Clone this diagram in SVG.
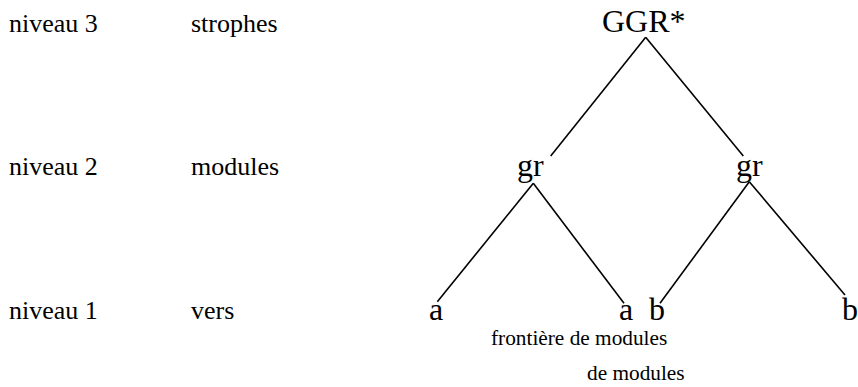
<svg xmlns="http://www.w3.org/2000/svg" width="858" height="387" viewBox="0 0 858 387">
<style>
text{font-family:"Liberation Serif","Times New Roman",serif;fill:#000}
.lbl{font-size:26px}
.node{font-size:32px}
.note{font-size:21.3px}
.edge{stroke:#000;stroke-width:1.6;fill:none}
</style>
<rect width="858" height="387" fill="#fff"/>
<g id="labels">
<text class="lbl" x="9" y="32">niveau 3</text>
<text class="lbl" x="191" y="32">strophes</text>
<text class="lbl" x="9" y="175">niveau 2</text>
<text class="lbl" x="191" y="175">modules</text>
<text class="lbl" x="9" y="319">niveau 1</text>
<text class="lbl" x="191" y="319">vers</text>
</g>
<g id="connectors">
<line class="edge" x1="645.7" y1="37.3" x2="550.7" y2="156"/>
<line class="edge" x1="645.7" y1="37.3" x2="743.3" y2="156"/>
<line class="edge" x1="533.3" y1="183.3" x2="437.3" y2="301.7"/>
<line class="edge" x1="533.3" y1="183.3" x2="624" y2="303.3"/>
<line class="edge" x1="749.3" y1="181.7" x2="660" y2="303.3"/>
<line class="edge" x1="749.3" y1="181.7" x2="845" y2="295"/>
</g>
<g id="n-GGR"><text class="node" x="602" y="32">GGR*</text></g>
<g id="n-gr1"><text class="node" x="517" y="176">gr</text></g>
<g id="n-gr2"><text class="node" x="736" y="176">gr</text></g>
<g id="n-a1"><text class="node" x="429" y="320">a</text></g>
<g id="n-a2"><text class="node" x="619" y="320">a</text></g>
<g id="n-b1"><text class="node" x="649" y="320">b</text></g>
<g id="n-b2"><text class="node" x="842" y="320">b</text></g>
<g id="note">
<text class="note" x="491" y="345">frontière de modules</text>
<text class="note" x="587" y="380">de modules</text>
</g>
</svg>
